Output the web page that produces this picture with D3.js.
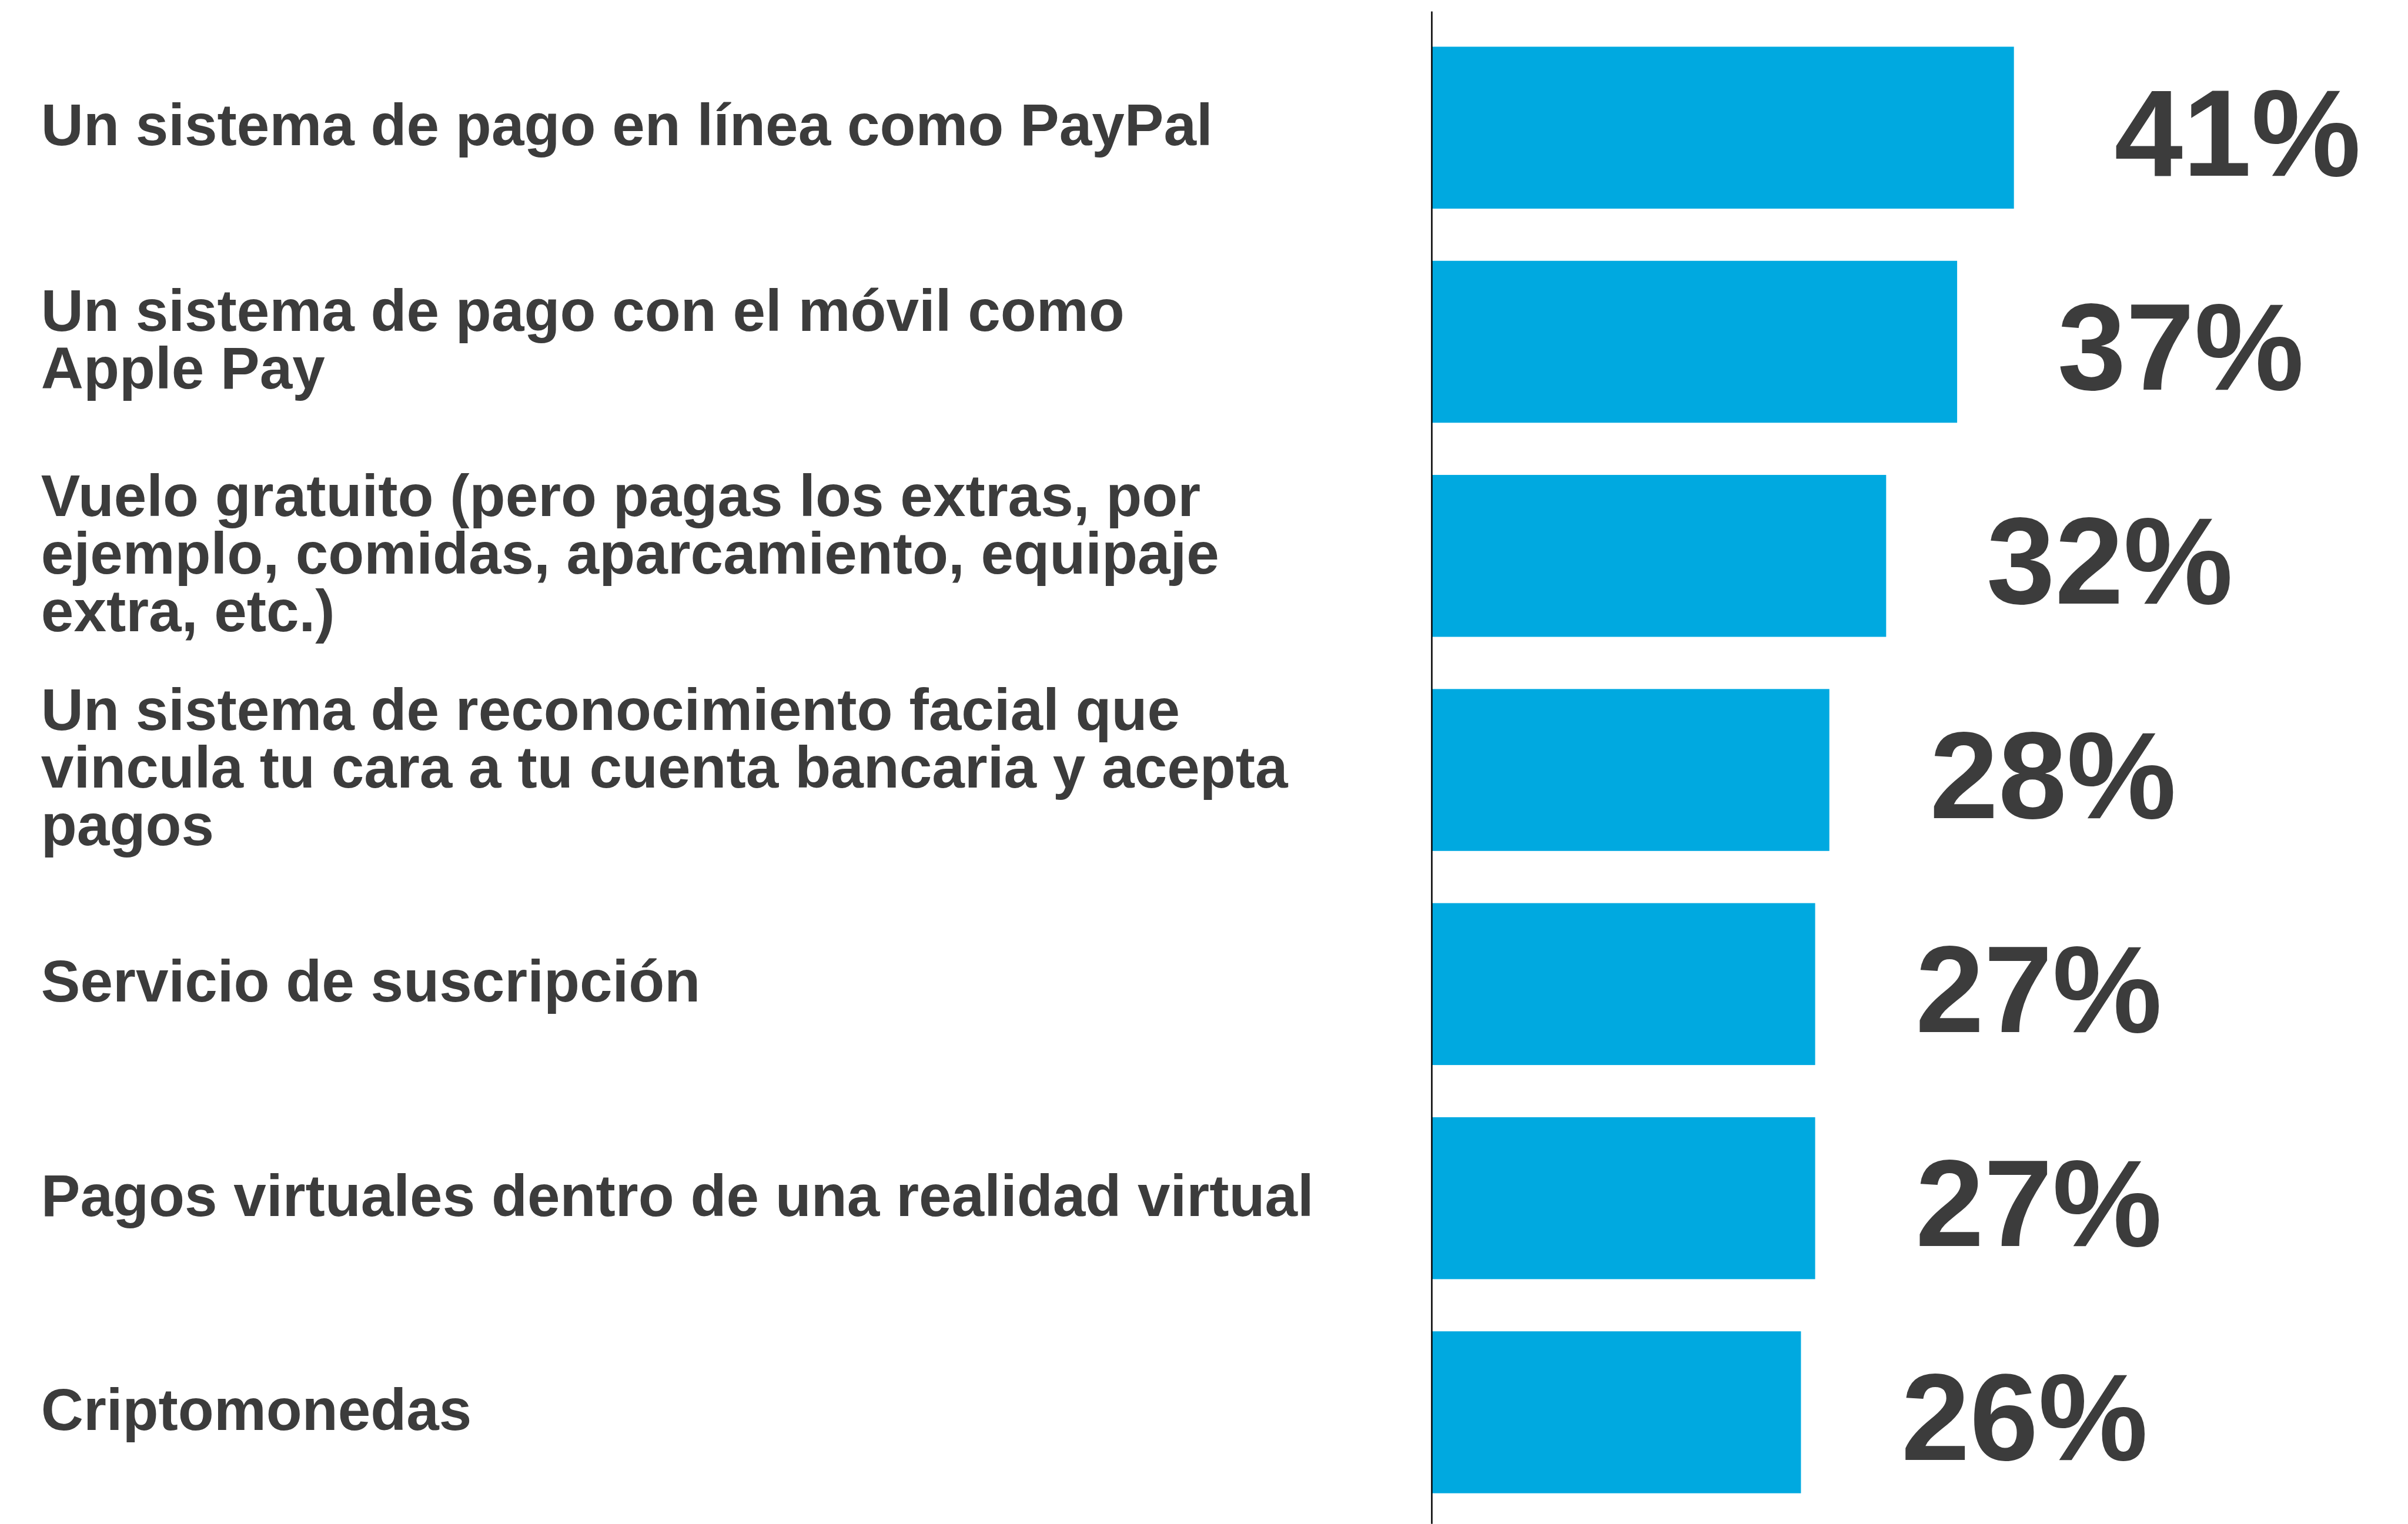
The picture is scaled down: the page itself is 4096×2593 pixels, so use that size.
<!DOCTYPE html>
<html>
<head>
<meta charset="utf-8">
<title>Métodos de pago</title>
<style>
  html, body { margin: 0; padding: 0; background: #fff; }
  svg { display: block; }
  .label, .value {
    font-family: "Liberation Sans", Arial, Helvetica, sans-serif;
    font-weight: bold;
    fill: #3c3c3c;
  }
  .label { font-size: 103px; }
  .value { font-size: 216px; }
  .bar { fill: #00a9e0; }
  .axis-line { stroke: #000; stroke-width: 2.6px; }
</style>
</head>
<body>
<div id="chart"></div>
<script src="https://d3js.org/d3.v7.min.js"></script>
<script>
// categories, one entry per bar, split into display lines
var categories = [
  ["Un sistema de pago en línea como PayPal"],
  ["Un sistema de pago con el móvil como", "Apple Pay"],
  ["Vuelo gratuito (pero pagas los extras, por", "ejemplo, comidas, aparcamiento, equipaje", "extra, etc.)"],
  ["Un sistema de reconocimiento facial que", "vincula tu cara a tu cuenta bancaria y acepta", "pagos"],
  ["Servicio de suscripción"],
  ["Pagos virtuales dentro de una realidad virtual"],
  ["Criptomonedas"]
];
var values = [41, 37, 32, 28, 27, 27, 26];

// drawing is done in the reference's units and scaled down by the viewBox
var refW = 4223, refH = 2673,
    outW = 4096, outH = 2593;

var axisX = 2511,
    labelX = 72,
    lineHeight = 101,
    labelShift = 31,
    valueGap = 176,
    valueShift = 84;

var svg = d3.select("#chart")
  .append("svg")
  .attr("width", outW)
  .attr("height", outH)
  .attr("viewBox", "0 0 " + refW + " " + refH);

var idx = d3.range(categories.length);

var y = d3.scaleBand()
  .domain(idx)
  .range([36, 2665])
  .paddingInner(0.2437)
  .paddingOuter(0.1218);

var x = d3.scaleLinear()
  .domain([0, 100])
  .range([axisX, axisX + 2490]);

// bars
svg.selectAll("rect.bar")
  .data(idx)
  .enter()
  .append("rect")
  .attr("class", "bar")
  .attr("x", x(0))
  .attr("y", function(i) { return y(i); })
  .attr("width", function(i) { return x(values[i]) - x(0); })
  .attr("height", y.bandwidth());

// vertical axis line
svg.append("line")
  .attr("class", "axis-line")
  .attr("x1", axisX).attr("x2", axisX)
  .attr("y1", 20).attr("y2", refH);

// category labels
var labels = svg.selectAll("text.label")
  .data(idx)
  .enter()
  .append("text")
  .attr("class", "label")
  .attr("x", labelX)
  .attr("y", function(i) { return y(i) + y.bandwidth() / 2 + labelShift; });

labels.selectAll("tspan")
  .data(function(i) {
    var lines = categories[i];
    return lines.map(function(t, j) {
      return { text: t, off: (j - (lines.length - 1) / 2) * lineHeight };
    });
  })
  .enter()
  .append("tspan")
  .attr("x", labelX)
  .attr("dy", function(d, j, nodes) {
    // first line sits above centre, the rest step down one line each
    return j === 0 ? d.off : lineHeight;
  })
  .text(function(d) { return d.text; });

// value labels
svg.selectAll("text.value")
  .data(idx)
  .enter()
  .append("text")
  .attr("class", "value")
  .attr("x", function(i) { return x(values[i]) + valueGap; })
  .attr("y", function(i) { return y(i) + y.bandwidth() / 2 + valueShift; })
  .text(function(i) { return values[i] + "%"; });
</script>
</body>
</html>
